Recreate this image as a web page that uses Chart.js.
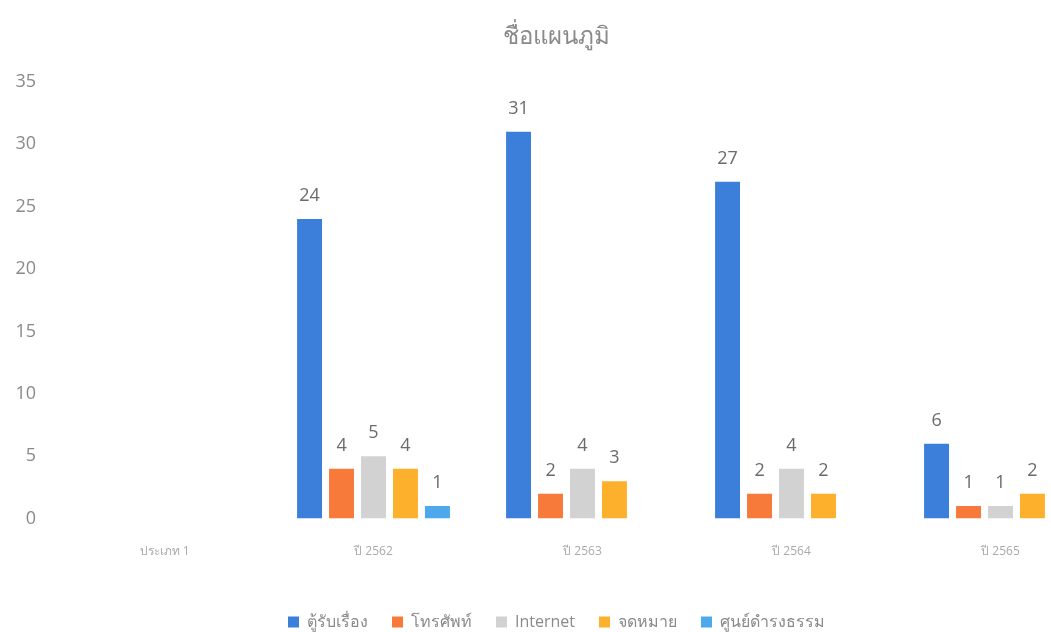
<!DOCTYPE html>
<html lang="th">
<head>
    <meta charset="UTF-8">
    <title>ชื่อแผนภูมิ</title>
    <script src="https://cdn.jsdelivr.net/npm/chart.js"></script>
    <style>
        body {
            margin: 0;
            background-color: #fff;
            overflow: hidden;
        }
        #chartContainer {
            width: 1130px;
            height: 640px;
        }
    </style>
</head>
<body>
    <div id="chartContainer">
        <canvas id="complaintChart"></canvas>
    </div>

    <script>
        // categories and series
        const categories = ['ประเภท 1', 'ปี 2562', 'ปี 2563', 'ปี 2564', 'ปี 2565'];
        const seriesNames = ['ตู้รับเรื่อง', 'โทรศัพท์', 'Internet', 'จดหมาย', 'ศูนย์ดำรงธรรม'];
        const suggestionBox = [null, 24, 31, 27, 6];
        const telephone = [null, 4, 2, 2, 1];
        const internet = [null, 5, 4, 4, 1];
        const letters = [null, 4, 3, 2, 2];
        const damrongCenter = [null, 1, null, null, null];
        const yTicks = [0, 5, 10, 15, 20, 25, 30, 35];

        const seriesValues = [suggestionBox, telephone, internet, letters, damrongCenter];
        const seriesColors = ['#3c7fda', '#f77a3a', '#d2d2d2', '#fdb02c', '#4ea8ec'];

        // draws the number above each bar
        const valueLabels = {
            id: 'valueLabels',
            afterDatasetsDraw(chart) {
                const ctx = chart.ctx;
                ctx.save();
                ctx.font = '18px "Open Sans", sans-serif';
                ctx.fillStyle = '#6b6b6b';
                ctx.textAlign = 'center';
                ctx.textBaseline = 'bottom';
                chart.data.datasets.forEach((ds, i) => {
                    const meta = chart.getDatasetMeta(i);
                    meta.data.forEach((bar, j) => {
                        const v = ds.data[j];
                        if (v === null || v === undefined) return;
                        ctx.fillText(v, bar.x, bar.y - 14);
                    });
                });
                ctx.restore();
            }
        };

        const ctx = document.getElementById('complaintChart').getContext('2d');
        const complaintChart = new Chart(ctx, {
            type: 'bar',
            data: {
                labels: categories,
                datasets: seriesNames.map((name, i) => ({
                    label: name,
                    data: seriesValues[i],
                    backgroundColor: seriesColors[i],
                    barPercentage: 0.78,
                    categoryPercentage: 0.765
                }))
            },
            options: {
                responsive: true,
                maintainAspectRatio: false,
                animation: false,
                layout: {
                    padding: { left: 8, right: 25, top: 23, bottom: 0 }
                },
                plugins: {
                    title: {
                        display: true,
                        text: 'ชื่อแผนภูมิ',
                        color: '#8a8a8a',
                        font: { size: 24, weight: 'normal', family: '"Open Sans", sans-serif' },
                        padding: { top: 0, bottom: 30 }
                    },
                    legend: {
                        position: 'bottom',
                        labels: {
                            boxWidth: 11,
                            boxHeight: 11,
                            color: '#8a8a8a',
                            padding: 24,
                            font: { size: 16, family: '"Open Sans", sans-serif' }
                        }
                    },
                    tooltip: { enabled: false }
                },
                scales: {
                    x: {
                        grid: { display: false },
                        border: { display: false },
                        afterFit: axis => { axis.height += 13; },
                        ticks: {
                            color: '#aaa',
                            padding: 18,
                            font: { size: 12, family: '"Open Sans", sans-serif' }
                        }
                    },
                    y: {
                        min: 0,
                        max: 35,
                        afterBuildTicks: axis => {
                            axis.ticks = yTicks.map(v => ({ value: v }));
                        },
                        afterFit: axis => { axis.width = 52; },
                        grid: { display: false },
                        border: { display: false },
                        ticks: {
                            color: '#8a8a8a',
                            padding: 16,
                            font: { size: 18, family: '"Open Sans", sans-serif' }
                        }
                    }
                }
            },
            plugins: [valueLabels]
        });
    </script>
</body>
</html>
